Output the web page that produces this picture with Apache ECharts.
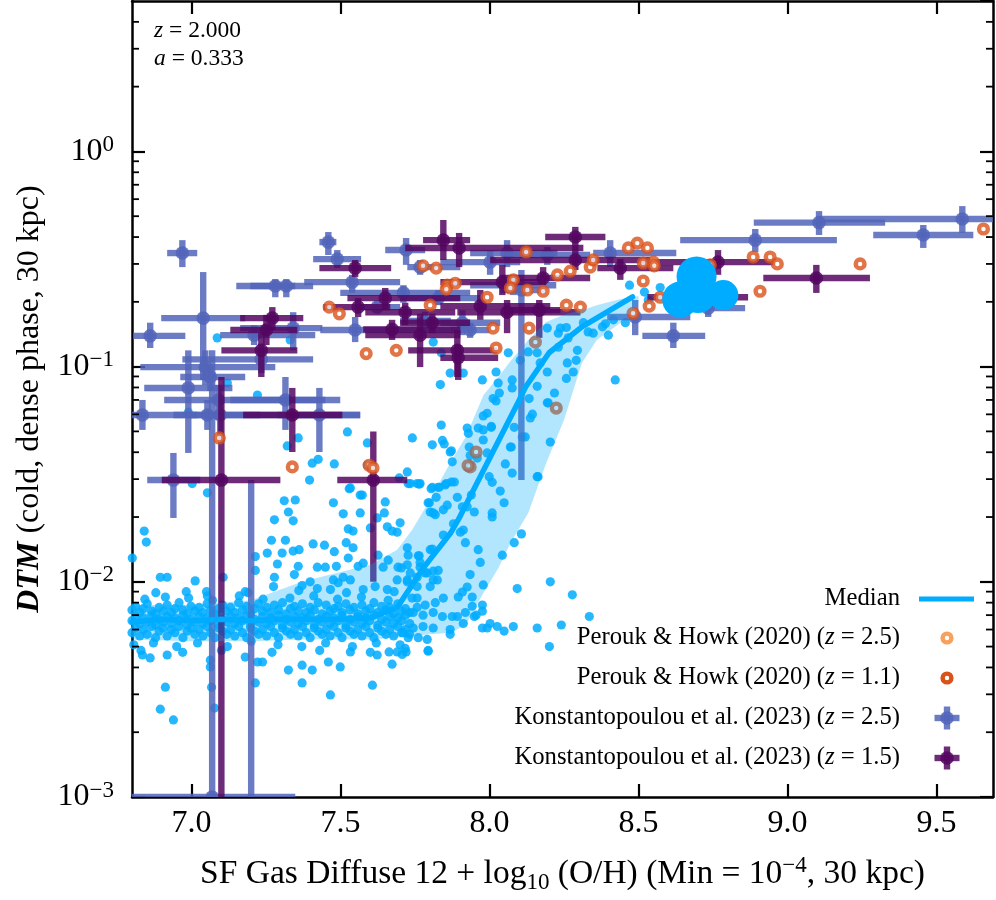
<!DOCTYPE html>
<html>
<head>
<meta charset="utf-8">
<script src="https://cdn.jsdelivr.net/npm/echarts@6/dist/echarts.min.js"></script>
<style>html,body{margin:0;padding:0;background:#fff;}#chart{width:996px;height:900px;}</style>
</head>
<body>
<div id="chart"></div>
<script>
// ---------------- DATA ----------------
const X_MIN = 6.8, X_MAX = 9.69, Y_MIN = 0.001, Y_MAX = 5;
const xTicks = [7.0, 7.5, 8.0, 8.5, 9.0, 9.5];
const yMinorTicks = [0.002,0.003,0.004,0.005,0.006,0.007,0.008,0.009,
  0.02,0.03,0.04,0.05,0.06,0.07,0.08,0.09,
  0.2,0.3,0.4,0.5,0.6,0.7,0.8,0.9, 2,3,4];

const medianX = [6.80,6.90,7.00,7.10,7.20,7.30,7.40,7.50,7.60,7.69,7.78,7.87,7.90,8.10,8.12,8.20,8.31,8.48];
const medianY = [0.0065,0.0067,0.0066,0.0067,0.0066,0.0067,0.0067,0.0067,0.0068,0.0076,0.0117,0.0169,0.0200,0.070,0.080,0.116,0.153,0.211];

const bandX  = [6.80,7.00,7.20,7.37,7.50,7.60,7.69,7.74,7.80,7.87,7.92,7.98,8.03,8.07,8.13,8.19,8.25,8.31,8.36,8.44,8.50];
const bandHi = [0.0078,0.0078,0.0082,0.0100,0.0111,0.0120,0.0141,0.0174,0.0240,0.0361,0.0471,0.0738,0.0895,0.106,0.133,0.161,0.174,0.183,0.193,0.206,0.213];
const bandLo = [0.0054,0.0053,0.0053,0.0054,0.0054,0.0054,0.0055,0.0056,0.0057,0.0058,0.0063,0.0089,0.0116,0.0151,0.0209,0.0356,0.0565,0.104,0.133,0.160,0.198];

// simulated galaxies: dense plateau
const simDense = [
[6.800,0.0058],[6.800,0.0066],[6.800,0.0074],[6.812,0.0061],[6.812,0.0069],[6.812,0.0077],
[6.826,0.0056],[6.826,0.0064],[6.826,0.0072],[6.838,0.0060],[6.838,0.0068],[6.838,0.0075],
[6.851,0.0057],[6.851,0.0065],[6.851,0.0079],[6.866,0.0062],[6.866,0.0070],[6.866,0.0073],
[6.879,0.0055],[6.879,0.0063],[6.879,0.0071],[6.891,0.0059],[6.891,0.0067],[6.891,0.0076],
[6.905,0.0061],[6.905,0.0065],[6.905,0.0073],[6.918,0.0056],[6.918,0.0069],[6.918,0.0078],
[6.932,0.0060],[6.932,0.0064],[6.932,0.0072],[6.944,0.0058],[6.944,0.0068],[6.944,0.0075],
[6.958,0.0062],[6.958,0.0066],[6.958,0.0080],[6.971,0.0055],[6.971,0.0070],[6.971,0.0074],
[6.985,0.0059],[6.985,0.0063],[6.985,0.0071],[6.998,0.0061],[6.998,0.0067],[6.998,0.0077],
[7.011,0.0057],[7.011,0.0065],[7.011,0.0073],[7.025,0.0060],[7.025,0.0069],[7.025,0.0076],
[7.038,0.0056],[7.038,0.0064],[7.038,0.0072],[7.052,0.0062],[7.052,0.0068],[7.052,0.0079],
[7.064,0.0058],[7.064,0.0066],[7.064,0.0074],[7.078,0.0055],[7.078,0.0070],[7.078,0.0071],
[7.091,0.0061],[7.091,0.0063],[7.091,0.0075],[7.104,0.0059],[7.104,0.0067],[7.104,0.0078],
[7.118,0.0057],[7.118,0.0065],[7.118,0.0073],[7.131,0.0060],[7.131,0.0069],[7.131,0.0076],
[7.145,0.0056],[7.145,0.0064],[7.145,0.0072],[7.158,0.0062],[7.158,0.0068],[7.158,0.0080],
[7.171,0.0058],[7.171,0.0066],[7.171,0.0074],[7.185,0.0055],[7.185,0.0070],[7.185,0.0077],
[7.198,0.0061],[7.198,0.0063],[7.198,0.0071],[7.211,0.0059],[7.211,0.0067],[7.211,0.0075],
[7.225,0.0057],[7.225,0.0065],[7.225,0.0079],[7.238,0.0060],[7.238,0.0069],[7.238,0.0073],
[7.252,0.0056],[7.252,0.0064],[7.252,0.0076],[7.265,0.0062],[7.265,0.0068],[7.265,0.0072],
[7.278,0.0058],[7.278,0.0066],[7.278,0.0078],[7.292,0.0055],[7.292,0.0070],[7.292,0.0074],
[7.305,0.0061],[7.305,0.0063],[7.305,0.0080],[7.318,0.0059],[7.318,0.0067],[7.318,0.0071],
[7.332,0.0057],[7.332,0.0065],[7.332,0.0075],[7.345,0.0060],[7.345,0.0069],[7.345,0.0077],
[7.358,0.0056],[7.358,0.0064],[7.358,0.0073],[7.372,0.0062],[7.372,0.0068],[7.372,0.0079],
[7.385,0.0058],[7.385,0.0066],[7.385,0.0072],[7.398,0.0055],[7.398,0.0070],[7.398,0.0076],
[7.412,0.0061],[7.412,0.0063],[7.412,0.0074],[7.425,0.0059],[7.425,0.0067],[7.425,0.0080],
[7.438,0.0057],[7.438,0.0065],[7.438,0.0071],[7.452,0.0060],[7.452,0.0069],[7.452,0.0078],
[7.465,0.0056],[7.465,0.0064],[7.465,0.0073],[7.478,0.0062],[7.478,0.0068],[7.478,0.0075],
[7.492,0.0058],[7.492,0.0066],[7.492,0.0077],[7.505,0.0055],[7.505,0.0070],[7.505,0.0072],
[7.518,0.0061],[7.518,0.0063],[7.518,0.0079],[7.532,0.0059],[7.532,0.0067],[7.532,0.0074],
[7.545,0.0057],[7.545,0.0065],[7.545,0.0076],[7.558,0.0060],[7.558,0.0069],[7.558,0.0071],
[7.572,0.0056],[7.572,0.0064],[7.572,0.0078],[7.585,0.0062],[7.585,0.0068],[7.585,0.0073],
[7.598,0.0058],[7.598,0.0066],[7.598,0.0075],[7.612,0.0055],[7.612,0.0070],[7.612,0.0080],
[7.625,0.0061],[7.625,0.0063],[7.625,0.0072],[7.638,0.0059],[7.638,0.0067],[7.638,0.0077],
[7.652,0.0057],[7.652,0.0065],[7.652,0.0074],[7.665,0.0060],[7.665,0.0069],[7.665,0.0076],
[7.678,0.0056],[7.678,0.0064],[7.678,0.0071],[7.692,0.0062],[7.692,0.0068],[7.692,0.0079],
[7.705,0.0058],[7.705,0.0066],[7.705,0.0073],[7.718,0.0060],[7.718,0.0070],[7.718,0.0075],
[7.732,0.0057],[7.732,0.0064],[7.732,0.0072],
[6.806,0.0051],[6.843,0.0083],[6.872,0.0052],[6.912,0.0085],[6.950,0.0050],[6.990,0.0084],
[7.020,0.0052],[7.070,0.0082],[7.120,0.0050],[7.160,0.0086],[7.200,0.0053],[7.240,0.0083],
[7.290,0.0051],[7.330,0.0084],[7.370,0.0050],[7.410,0.0086],[7.450,0.0052],[7.490,0.0083],
[7.540,0.0050],[7.570,0.0085],[7.620,0.0052],[7.660,0.0082],[7.700,0.0051],[7.740,0.0084],
[6.830,0.0048],[6.970,0.0047],[7.100,0.0048],[7.270,0.0047],[7.430,0.0048],[7.600,0.0047],
[6.880,0.0089],[7.050,0.0090],[7.190,0.0089],[7.360,0.0091],[7.520,0.0089],[7.680,0.0090]
];

// simulated galaxies: scattered outside the plateau
const simSparse = [
[6.841,0.0172],[6.848,0.0153],[6.895,0.0105],[6.918,0.0105],[7.012,0.0101],[6.982,0.0090],[6.801,0.0129],
[7.311,0.0238],[7.348,0.0240],[7.325,0.0211],[7.341,0.0192],[7.278,0.0194],[7.268,0.0156],[7.315,0.0156],
[7.254,0.0136],[7.304,0.0136],[7.341,0.0139],[7.361,0.0141],[7.214,0.0131],[7.288,0.0121],[7.358,0.0118],
[7.345,0.0108],[7.278,0.0105],[7.214,0.0113],[7.106,0.0105],[7.053,0.0086],[7.180,0.0090],[7.275,0.0095],
[7.396,0.0297],[7.476,0.0233],[7.529,0.0271],[7.573,0.0253],[7.509,0.0207],[7.566,0.0209],[7.650,0.0235],
[7.647,0.0209],[7.623,0.0198],[7.526,0.0176],[7.542,0.0172],[7.600,0.0178],[7.657,0.0180],[7.673,0.0172],
[7.690,0.0170],[7.700,0.0188],[7.519,0.0152],[7.542,0.0144],[7.479,0.0138],[7.446,0.0148],[7.408,0.0150],
[7.526,0.0129],[7.422,0.0117],[7.486,0.0118],[7.449,0.0117],[7.509,0.0105],[7.476,0.0102],[7.559,0.0118],
[7.576,0.0122],[7.626,0.0133],[7.660,0.0126],[7.693,0.0117],[7.643,0.0117],[7.724,0.0144],[7.764,0.0132],
[7.724,0.0120],[7.767,0.0117],[7.801,0.0141],[7.808,0.0275],[7.831,0.0275],[7.855,0.0286],[7.794,0.0233],
[7.801,0.0211],[7.818,0.0205],[7.845,0.0216],[7.845,0.0165],[7.757,0.0286],[7.727,0.0286],
[7.371,0.0096],[7.398,0.0100],[7.422,0.0093],[7.466,0.0092],[7.492,0.0099],[7.533,0.0102],[7.576,0.0092],
[7.616,0.0095],[7.657,0.0092],[7.690,0.0102],[7.724,0.0102],[7.757,0.0105],[7.791,0.0110],[7.811,0.0102],[7.828,0.0113],
[6.835,0.00457],[6.861,0.00443],[6.918,0.00457],[6.912,0.00324],[6.895,0.00256],[6.939,0.00228],[7.063,0.00433],
[7.063,0.00402],[7.067,0.00324],[7.077,0.00259],[7.214,0.00339],[7.180,0.00447],[7.221,0.00424],[7.238,0.00424],
[7.325,0.00389],[7.371,0.0041],[7.371,0.00339],[7.405,0.00389],[7.466,0.00298],[7.459,0.00424],[7.499,0.00402],
[7.533,0.00472],[7.607,0.00331],[7.623,0.00457],[7.673,0.00414],[7.663,0.00472],[7.690,0.00472],[7.720,0.00472],[7.794,0.00476],
[7.838,0.0535],[7.741,0.0466],[7.808,0.0433],[7.842,0.0454],[7.848,0.0437],[7.872,0.0406],[7.875,0.0361],
[7.925,0.0518],[7.929,0.0490],[7.962,0.0518],[7.979,0.0508],[8.006,0.0527],[7.979,0.0590],[7.992,0.0607],
[7.979,0.0456],[7.932,0.0423],[7.935,0.0386],[7.992,0.0397],[7.959,0.0376],[8.022,0.0693],[8.083,0.0522],
[8.070,0.0423],[8.053,0.0353],[8.076,0.0320],[8.144,0.0601],[8.120,0.0471],[8.160,0.0308],[8.204,0.0446],
[8.194,0.0679],[7.999,0.0308],[8.009,0.0290],[8.036,0.0264],[8.049,0.0233],[8.009,0.0200],[8.009,0.0209],
[7.724,0.0324],[7.764,0.0284],[7.804,0.0271],[7.828,0.0275],[7.851,0.0282],[7.872,0.0291],[7.882,0.0291],
[7.821,0.0247],[7.798,0.0233],[7.811,0.0209],[7.858,0.0227],[7.892,0.0247],[7.909,0.0223],[7.925,0.0223],
[7.939,0.0253],[7.949,0.0211],[7.879,0.0186],[7.912,0.0174],[7.902,0.0170],[7.919,0.0152],[7.962,0.0141],
[7.969,0.0123],[7.935,0.0108],[7.979,0.00967],[7.925,0.00946],[7.909,0.00896],[7.942,0.00850],[7.895,0.00850],
[8.043,0.0133],[8.083,0.0152],[8.107,0.0167],[7.808,0.0142],[7.727,0.0133],[7.761,0.0132],[7.767,0.0123],
[7.811,0.0112],[7.825,0.0102],[7.784,0.0110],[7.734,0.0110],[7.704,0.0116],[7.724,0.0100],[7.757,0.0095],
[7.757,0.0084],[7.801,0.0095],[7.845,0.0084],[7.818,0.0080],[7.784,0.0078],[7.757,0.0076],[7.744,0.0072],
[7.777,0.0070],[7.811,0.0072],[7.842,0.0069],[7.875,0.0069],[7.892,0.0069],[7.919,0.0072],[7.949,0.0069],
[7.976,0.0073],[7.912,0.0064],[7.868,0.0060],[7.868,0.0057],[7.811,0.0061],[7.777,0.0062],[7.744,0.0061],
[7.710,0.0058],[7.727,0.0055],[7.761,0.0055],[7.791,0.0054],[7.794,0.0048],[7.717,0.0049],[7.707,0.0046],
[7.976,0.0061],[7.992,0.0061],[8.026,0.0062],[8.049,0.0059],[8.080,0.0062],[8.093,0.0093],[8.160,0.0061],
[8.204,0.0100],[8.278,0.0087],[8.335,0.0069],[8.241,0.0063],[8.201,0.0050],[8.002,0.0064],[7.976,0.0078],
[7.942,0.0077],[7.955,0.0070],
[8.063,0.116],[8.022,0.0944],[7.976,0.0867],[8.029,0.0839],[8.076,0.0867],[8.103,0.107],[8.130,0.117],
[8.160,0.116],[8.170,0.104],[8.194,0.0944],[8.261,0.104],[8.295,0.119],[8.291,0.107],[8.281,0.0944],
[8.258,0.0881],[8.218,0.0754],[8.197,0.0679],[8.160,0.0810],[8.133,0.0710],[8.137,0.0577],[8.073,0.0423],
[8.110,0.0471],[8.163,0.0308],[8.006,0.0522],[8.012,0.0710],[8.033,0.0754],[8.076,0.0796],[8.231,0.123],
[8.264,0.136],[8.331,0.145],[8.348,0.143],[8.389,0.158],[8.399,0.140],[8.379,0.153],[8.416,0.165],
[8.456,0.160],[8.470,0.239],[8.520,0.222],[8.573,0.233],[8.533,0.204],[8.315,0.160],[8.238,0.151],
[8.258,0.152],[8.194,0.151],[8.231,0.143],[8.422,0.0867],[7.835,0.0825],[7.868,0.0933],[7.912,0.0933],[7.838,0.116],
[7.086,0.136],[7.331,0.133],[7.120,0.0839],[7.221,0.0738],[7.811,0.130],[7.523,0.0497],[7.358,0.0466],
[7.321,0.0428],[7.405,0.0356],[7.425,0.0371],[7.479,0.0353],[7.590,0.0442],[7.590,0.0349],[7.868,0.0401],
[7.697,0.0304],[7.734,0.0286],[7.767,0.0286],[7.566,0.0253],[7.533,0.0273],[6.989,0.0614],[7.002,0.0286],[7.053,0.0259]
];

// most massive simulated galaxies (drawn as large discs)
const simLarge = [[8.640,0.205],[8.695,0.262],[8.700,0.215],[8.785,0.215]];

// Perouk & Howk (2020)
const perouk25 = [];
const perouk11 = [
[9.658,0.436],[9.244,0.300],[8.885,0.323],[8.942,0.323],[8.966,0.300],[8.908,0.224],[8.741,0.297],
[8.123,0.341],[8.228,0.267],[8.271,0.278],[8.338,0.290],[8.348,0.313],[8.466,0.356],[8.496,0.375],
[8.530,0.356],[8.516,0.303],[8.550,0.306],[8.553,0.294],[8.516,0.250],[8.573,0.210],[8.536,0.191],
[8.482,0.177],[8.258,0.193],[8.305,0.189],[8.180,0.224],[8.127,0.227],[8.080,0.253],[8.070,0.232],
[7.992,0.210],[8.012,0.151],[8.022,0.122],[8.133,0.151],[8.154,0.130],[7.858,0.239],[7.885,0.244],
[7.462,0.189],[7.496,0.176],[7.586,0.115],[7.687,0.119],[7.777,0.294],[7.821,0.287],[7.855,0.229],
[7.801,0.193],[7.093,0.0466],[7.338,0.0342],[7.596,0.0348],[7.609,0.0338],[8.224,0.0642],[7.955,0.0401],
[7.935,0.0342],[7.928,0.0347]
];

// Konstantopoulou et al. (2023): [x, y, xLow, xHigh, yLow, yHigh]
const konst25 = [
[6.969,0.337,6.918,7.019,0.290,0.387],[6.861,0.139,6.804,6.979,0.122,0.160],[7.039,0.168,6.898,7.180,0.0867,0.275],
[7.281,0.237,7.150,7.348,0.210,0.255],[7.318,0.237,7.197,7.408,0.210,0.255],[7.459,0.379,7.429,7.486,0.330,0.422],
[7.489,0.316,7.408,7.569,0.287,0.348],[7.539,0.247,7.378,7.700,0.220,0.267],[7.720,0.348,7.650,7.784,0.297,0.396],
[7.767,0.290,7.724,7.902,0.267,0.313],[7.210,0.140,7.096,7.415,0.126,0.156],[7.341,0.151,7.163,7.439,0.119,0.179],
[7.234,0.108,6.969,7.408,0.0933,0.122],[7.046,0.0995,6.828,7.281,0.082,0.119],[7.063,0.0895,6.962,7.180,0.077,0.101],
[6.989,0.0796,6.841,7.137,0.0397,0.119],[7.090,0.070,6.908,7.449,0.0565,0.082],[7.315,0.070,7.130,7.499,0.0508,0.0895],
[7.053,0.0596,6.939,7.566,0.0508,0.070],[6.835,0.0596,6.795,7.019,0.0508,0.070],[7.096,0.0596,6.996,7.231,0.048,0.073],
[7.429,0.0596,7.288,7.566,0.0401,0.0796],[6.939,0.0297,6.851,7.029,0.0198,0.0397],[7.069,0.001,6.80,7.348,0.0006,0.119],
[7.200,0.0008,7.15,7.25,0.0005,0.0297],[7.549,0.148,7.432,7.902,0.130,0.170],[7.711,0.220,7.499,7.935,0.198,0.239],
[7.828,0.208,7.700,7.969,0.193,0.227],[7.623,0.189,7.55,7.70,0.18,0.20],[7.784,0.163,7.70,7.87,0.15,0.18],
[8.059,0.337,7.935,8.228,0.290,0.387],[8.194,0.330,8.070,8.338,0.297,0.360],[8.405,0.337,8.348,8.627,0.290,0.387],
[8.002,0.306,7.835,8.103,0.267,0.348],[8.107,0.227,8.036,8.187,0.0297,0.281],[8.489,0.170,8.395,8.674,0.140,0.204],
[8.617,0.139,8.513,8.724,0.122,0.160],[7.909,0.160,7.835,8.036,0.140,0.183],[8.892,0.387,8.640,9.166,0.341,0.436],
[9.106,0.467,8.887,9.328,0.409,0.528],[9.587,0.485,9.109,9.702,0.418,0.557],[9.456,0.409,9.288,9.624,0.356,0.455],
[8.734,0.187,8.640,8.858,0.170,0.204],[8.080,0.239,7.935,8.224,0.215,0.267],[7.935,0.148,7.87,8.0,0.136,0.16]
];
const konst15 = [
[7.271,0.168,7.163,7.375,0.148,0.189],[7.251,0.148,7.130,7.355,0.126,0.174],[7.234,0.119,7.100,7.355,0.0895,0.143],
[7.549,0.287,7.429,7.670,0.261,0.313],[7.559,0.189,7.442,7.667,0.170,0.208],[7.650,0.208,7.523,7.902,0.183,0.232],
[7.673,0.149,7.576,7.902,0.133,0.165],[7.717,0.179,7.583,7.885,0.156,0.198],[7.767,0.140,7.583,7.902,0.0995,0.176],
[7.808,0.160,7.70,7.935,0.143,0.176],[7.845,0.387,7.777,7.935,0.313,0.480],[7.892,0.119,7.727,8.026,0.0895,0.148],
[7.338,0.0596,7.173,7.506,0.0401,0.0796],[7.100,0.0297,6.90,7.298,0.0006,0.0895],[7.610,0.0297,7.489,7.724,0.0100,0.0500],
[7.898,0.356,7.717,8.315,0.290,0.418],[8.288,0.400,8.187,8.389,0.348,0.446],[8.288,0.313,8.002,8.54,0.281,0.348],
[8.043,0.247,7.835,8.170,0.215,0.297],[8.180,0.258,8.036,8.338,0.239,0.29],[7.969,0.191,7.835,8.204,0.165,0.227],
[8.059,0.179,7.892,8.305,0.143,0.204],[8.167,0.183,8.07,8.238,0.136,0.204],[7.895,0.110,7.835,8.029,0.0867,0.126],
[8.439,0.287,8.362,8.617,0.253,0.316],[8.767,0.306,8.506,8.959,0.267,0.348],[9.097,0.258,8.919,9.277,0.220,0.297],
[8.674,0.210,8.53,8.868,0.183,0.232]
];

// ---------------- STYLE / CHART ----------------
const FONT = '"Liberation Serif", "DejaVu Serif", serif';
const CYAN = 'rgb(0,172,255)';
const BLUE = 'rgb(82,101,186)';
const PURPLE = 'rgb(84,6,96)';
const ORANGE_DARK = '#d9521a';
const ORANGE_LIGHT = '#f7a25c';
const largeSizes = [36, 40, 36, 30];

const chart = echarts.init(document.getElementById('chart'));

function crossRenderer(color) {
  return function (params, api) {
    const x = api.value(0), y = api.value(1);
    const c = api.coord([x, y]);
    const l = api.coord([api.value(2), y]);
    const r = api.coord([api.value(3), y]);
    const b = api.coord([x, api.value(4)]);
    const t = api.coord([x, api.value(5)]);
    const w = 6.4;
    return {
      type: 'group',
      children: [
        {type: 'rect', shape: {x: l[0], y: c[1] - w / 2, width: r[0] - l[0], height: w}, style: {fill: color, opacity: 0.85}},
        {type: 'rect', shape: {x: c[0] - w / 2, y: t[1], width: w, height: b[1] - t[1]}, style: {fill: color, opacity: 0.85}},
        {type: 'circle', shape: {cx: c[0], cy: c[1], r: 6.8}, style: {fill: color, opacity: 0.85}}
      ]
    };
  };
}

const supRich = {
  b: {fontFamily: FONT, fontSize: 32, lineHeight: 36, color: '#000'},
  s: {fontFamily: FONT, fontSize: 23, lineHeight: 16, verticalAlign: 'top', color: '#000'}
};
function yLabel(v) {
  const e = Math.round(Math.log10(v));
  if (Math.abs(Math.log10(v) - e) > 1e-6) return '';
  const s = e < 0 ? '\u2212' + (-e) : String(e);
  return '{b|10}{s|' + s + '}';
}

const legendRich = {
  n: {fontFamily: FONT, fontSize: 24.7, color: '#000'},
  i: {fontFamily: FONT, fontSize: 24.7, fontStyle: 'italic', color: '#000'}
};
const annoRich = {
  n: {fontFamily: FONT, fontSize: 23.5, color: '#000'},
  i: {fontFamily: FONT, fontSize: 23.5, fontStyle: 'italic', color: '#000'}
};
const legendItems = [
  {text: '{n|Median}', y: 599},
  {text: '{n|Perouk & Howk (2020) (}{i|z}{n| = 2.5)}', y: 638},
  {text: '{n|Perouk & Howk (2020) (}{i|z}{n| = 1.1)}', y: 678},
  {text: '{n|Konstantopoulou et al. (2023) (}{i|z}{n| = 2.5)}', y: 718},
  {text: '{n|Konstantopoulou et al. (2023) (}{i|z}{n| = 1.5)}', y: 758}
];
function crossIcon(cx, cy, color) {
  return {type: 'group', children: [
    {type: 'rect', shape: {x: cx - 12.5, y: cy - 3.2, width: 25, height: 6.4}, style: {fill: color, opacity: 0.85}},
    {type: 'rect', shape: {x: cx - 3.2, y: cy - 11.5, width: 6.4, height: 23}, style: {fill: color, opacity: 0.85}},
    {type: 'circle', shape: {cx: cx, cy: cy, r: 6.8}, style: {fill: color, opacity: 0.85}}
  ]};
}

const graphics = [
  {type: 'text', x: 154, y: 31, style: {text: '{i|z}{n| = 2.000}', rich: annoRich, verticalAlign: 'middle'}},
  {type: 'text', x: 154, y: 59, style: {text: '{i|a}{n| = 0.333}', rich: annoRich, verticalAlign: 'middle'}}
];
legendItems.forEach(it => graphics.push({type: 'text', x: 900, y: it.y, style: {text: it.text, rich: legendRich, align: 'right', verticalAlign: 'middle'}}));
graphics.push({type: 'rect', shape: {x: 919, y: 596.5, width: 55, height: 5}, style: {fill: CYAN}});
graphics.push({type: 'circle', shape: {cx: 947, cy: 638, r: 4.4}, style: {fill: '#fff', stroke: ORANGE_LIGHT, lineWidth: 4.4}});
graphics.push({type: 'circle', shape: {cx: 947, cy: 678, r: 4.4}, style: {fill: '#fff', stroke: ORANGE_DARK, lineWidth: 4.4}});
graphics.push(crossIcon(947, 718, BLUE));
graphics.push(crossIcon(947, 758, PURPLE));

const commonYAxis = {type: 'log', logBase: 10, min: Y_MIN, max: Y_MAX, splitLine: {show: false}};

const option = {
  animation: false,
  backgroundColor: '#fff',
  grid: {left: 132, right: 3, top: 1, bottom: 103, containLabel: false},
  xAxis: [
    {
      type: 'value', min: X_MIN, max: X_MAX, position: 'bottom',
      axisLine: {show: true, onZero: false, lineStyle: {color: '#000', width: 2.5}},
      axisTick: {show: true, inside: true, length: 13, lineStyle: {color: '#000', width: 2.2}, customValues: xTicks},
      axisLabel: {show: true, margin: 11, fontFamily: FONT, fontSize: 32, color: '#000', customValues: xTicks,
                  formatter: v => v.toFixed(1)},
      splitLine: {show: false},
      name: '{n|SF Gas Diffuse 12 + log}{sub|10}{n| (O/H) (Min = 10}{sup|\u22124}{n|, 30 kpc)}',
      nameLocation: 'middle', nameGap: 57,
      nameTextStyle: {
        rich: {
          n: {fontFamily: FONT, fontSize: 33.5, lineHeight: 40, color: '#000'},
          sub: {fontFamily: FONT, fontSize: 23, lineHeight: 24, verticalAlign: 'bottom', color: '#000'},
          sup: {fontFamily: FONT, fontSize: 23, lineHeight: 20, verticalAlign: 'top', color: '#000'}
        }
      }
    },
    {
      type: 'value', min: X_MIN, max: X_MAX, position: 'top',
      axisLine: {show: true, onZero: false, lineStyle: {color: '#000', width: 2.5}},
      axisTick: {show: true, inside: true, length: 13, lineStyle: {color: '#000', width: 2.2}, customValues: xTicks},
      axisLabel: {show: false}, splitLine: {show: false}
    }
  ],
  yAxis: [
    Object.assign({}, commonYAxis, {
      position: 'left',
      axisLine: {show: true, lineStyle: {color: '#000', width: 2.5}},
      axisTick: {show: true, inside: true, length: 13, lineStyle: {color: '#000', width: 2.2}},
      axisLabel: {show: true, margin: 18, formatter: yLabel, rich: supRich, showMaxLabel: false},
      name: '{i|DTM}{n| (cold, dense phase, 30 kpc)}',
      nameLocation: 'middle', nameGap: 86,
      nameTextStyle: {
        rich: {
          i: {fontFamily: FONT, fontSize: 32, fontStyle: 'italic', fontWeight: 'bold', color: '#000'},
          n: {fontFamily: FONT, fontSize: 32, color: '#000'}
        }
      }
    }),
    Object.assign({}, commonYAxis, {
      position: 'right',
      axisLine: {show: true, lineStyle: {color: '#000', width: 2.5}},
      axisTick: {show: true, inside: true, length: 13, lineStyle: {color: '#000', width: 2.2}},
      axisLabel: {show: false}
    })
  ],
  graphic: graphics,
  series: [
    {
      name: 'Simulation', type: 'scatter', z: 2,
      data: simDense.concat(simSparse),
      symbol: 'circle', symbolSize: 9.2,
      itemStyle: {color: CYAN, opacity: 0.85},
      silent: true
    },
    {
      name: 'Konstantopoulou et al. (2023) (z = 2.5)', type: 'custom', z: 3, clip: true,
      data: konst25, encode: {x: 0, y: 1},
      renderItem: crossRenderer(BLUE), silent: true
    },
    {
      name: 'Konstantopoulou et al. (2023) (z = 1.5)', type: 'custom', z: 3, clip: true,
      data: konst15, encode: {x: 0, y: 1},
      renderItem: crossRenderer(PURPLE), silent: true
    },
    {
      name: 'Perouk & Howk (2020) (z = 2.5)', type: 'scatter', z: 4,
      data: perouk25, symbol: 'circle', symbolSize: 8.8,
      itemStyle: {color: '#fff', borderColor: ORANGE_LIGHT, borderWidth: 4.4}, silent: true
    },
    {
      name: 'Perouk & Howk (2020) (z = 1.1)', type: 'scatter', z: 4,
      data: perouk11, symbol: 'circle', symbolSize: 8.8,
      itemStyle: {color: '#fff', borderColor: ORANGE_DARK, borderWidth: 4.4}, silent: true
    },
    {
      name: 'Band', type: 'custom', z: 5, clip: true, silent: true,
      data: bandX.map((x, i) => [x, bandLo[i], bandHi[i]]),
      encode: {x: 0, y: [1, 2]},
      renderItem: function (params, api) {
        if (params.dataIndex !== 0) return null;
        const pts = [];
        for (let i = 0; i < bandX.length; i++) pts.push(api.coord([bandX[i], bandHi[i]]));
        for (let i = bandX.length - 1; i >= 0; i--) pts.push(api.coord([bandX[i], bandLo[i]]));
        return {type: 'polygon', shape: {points: pts}, style: {fill: 'rgba(0,172,255,0.30)'}};
      }
    },
    {
      name: 'Median', type: 'line', z: 6,
      data: medianX.map((x, i) => [x, medianY[i]]),
      showSymbol: false, symbol: 'none',
      lineStyle: {color: CYAN, width: 5.5, cap: 'round', join: 'round'}, silent: true
    },
    {
      name: 'Large', type: 'scatter', z: 7,
      data: simLarge, symbol: 'circle',
      symbolSize: (v, p) => largeSizes[p.dataIndex],
      itemStyle: {color: CYAN, opacity: 1}, silent: true
    },
    {
      name: 'MinorTicks', type: 'custom', z: 10, silent: true, clip: false,
      data: yMinorTicks.map(v => [X_MIN, v]), encode: {x: 0, y: 1},
      renderItem: function (params, api) {
        const p = api.coord([api.value(0), api.value(1)]);
        const cs = params.coordSys;
        return {type: 'group', children: [
          {type: 'line', shape: {x1: cs.x, y1: p[1], x2: cs.x + 7, y2: p[1]}, style: {stroke: '#000', lineWidth: 1.8}},
          {type: 'line', shape: {x1: cs.x + cs.width - 7, y1: p[1], x2: cs.x + cs.width, y2: p[1]}, style: {stroke: '#000', lineWidth: 1.8}}
        ]};
      }
    }
  ]
};
chart.setOption(option);
</script>
</body>
</html>
